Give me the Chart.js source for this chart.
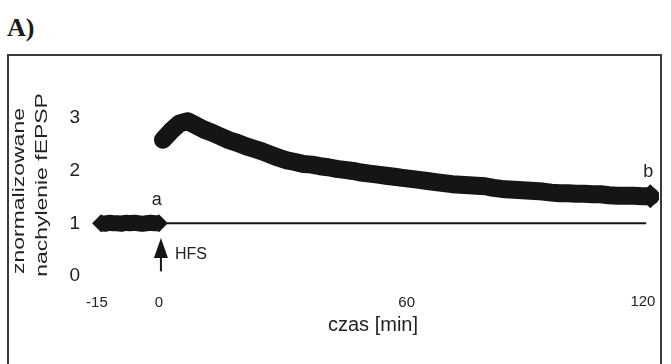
<!DOCTYPE html>
<html>
<head>
<meta charset="utf-8">
<script src="https://cdn.jsdelivr.net/npm/chart.js@4.4.1/dist/chart.umd.min.js"></script>
<style>
  html, body { margin: 0; padding: 0; background: #fff; width: 671px; height: 364px; overflow: hidden; }
  #c { position: absolute; left: 0; top: 0; }
  #frame { position: absolute; left: 7px; top: 54px; width: 655px; height: 340px; box-sizing: border-box; border: 2px solid #3a3a3a; pointer-events: none; }
  #lbl { position: absolute; left: 7px; top: 14px; font-family: "Liberation Serif", "DejaVu Serif", serif; font-weight: bold; font-size: 26px; line-height: 27px; color: #1a1a1a; }
</style>
</head>
<body>
<div id="lbl">A)</div>
<canvas id="c" width="671" height="364"></canvas>
<div id="frame"></div>
<script>
// ---- data ----
const baseTime = [-14, -13, -12, -11, -10, -9, -8, -7, -6, -5, -4, -3, -2, -1, 0];
const baseValues = [1.00, 0.99, 1.01, 1.00, 1.00, 0.99, 1.01, 1.00, 1.01, 1.00, 0.99, 1.00, 1.01, 1.00, 1.00];

const postTime = [1, 3, 5, 7, 9, 11, 13, 15, 17, 19, 21, 23, 25, 27, 29, 31, 33, 35, 37, 39,
                  41, 43, 45, 47, 49, 51, 53, 55, 57, 59, 61, 63, 65, 67, 69, 71, 73, 75, 77, 79,
                  81, 83, 85, 87, 89, 91, 93, 95, 97, 99, 101, 103, 105, 107, 109, 111, 113, 115, 117, 119];
const postValues = [2.58, 2.75, 2.89, 2.93, 2.85, 2.77, 2.71, 2.64, 2.57, 2.52, 2.46, 2.41, 2.36, 2.30, 2.24, 2.19, 2.16, 2.12, 2.11, 2.08,
                    2.06, 2.03, 2.01, 1.99, 1.96, 1.94, 1.92, 1.90, 1.88, 1.86, 1.84, 1.82, 1.80, 1.78, 1.76, 1.74, 1.73, 1.72, 1.71, 1.70,
                    1.67, 1.65, 1.64, 1.63, 1.62, 1.61, 1.60, 1.58, 1.57, 1.57, 1.56, 1.56, 1.55, 1.55, 1.53, 1.52, 1.52, 1.52, 1.51, 1.51];

const refLineTime = [2, 118];
const refLineValue = [1, 1];

const xTickValues = [-15, 0, 60, 120];
const yTickValues = [0, 1, 2, 3];

const xTitle = 'czas [min]';
const yTitle = ['znormalizowane', 'nachylenie fEPSP'];

const labelA = { text: 'a', t: -0.5, v: 1.44 };
const labelB = { text: 'b', t: 118.5, v: 1.97 };
const hfs = { text: 'HFS', t: 0.5, tip: 0.72, base: 0.09 };

// ---- chart ----
const FONT = '"Liberation Sans", Arial, sans-serif';
const INK = '#151515';
const TXT = '#222';

const toXY = (xs, ys) => xs.map((x, i) => ({ x: x, y: ys[i] }));
const endsOnly = (r) => (ctx) => (ctx.dataIndex === 0 || ctx.dataIndex === ctx.dataset.data.length - 1 ? r : 0);
const lastOnly = (r) => (ctx) => (ctx.dataIndex === ctx.dataset.data.length - 1 ? r : 0);

const annot = {
  id: 'annot',
  afterDatasetsDraw(chart) {
    const { ctx, chartArea, scales: { x, y } } = chart;
    ctx.save();
    ctx.fillStyle = TXT;
    ctx.font = '18px ' + FONT;
    ctx.textAlign = 'center';
    ctx.textBaseline = 'middle';
    ctx.fillText(labelA.text, x.getPixelForValue(labelA.t), y.getPixelForValue(labelA.v));
    ctx.fillText(labelB.text, x.getPixelForValue(labelB.t), y.getPixelForValue(labelB.v));
    // HFS arrow
    const ax = x.getPixelForValue(hfs.t);
    const ty = y.getPixelForValue(hfs.tip);
    const by = y.getPixelForValue(hfs.base);
    ctx.strokeStyle = INK;
    ctx.lineWidth = 2;
    ctx.beginPath();
    ctx.moveTo(ax, ty + 12);
    ctx.lineTo(ax, by);
    ctx.stroke();
    ctx.fillStyle = INK;
    ctx.beginPath();
    ctx.moveTo(ax, ty);
    ctx.lineTo(ax - 7, ty + 20);
    ctx.lineTo(ax + 7, ty + 20);
    ctx.closePath();
    ctx.fill();
    ctx.fillStyle = TXT;
    ctx.font = '16px ' + FONT;
    ctx.textAlign = 'left';
    ctx.fillText(hfs.text, ax + 14, ty + 17);
    // last x tick label sits inside the frame, right-aligned
    ctx.font = '15px ' + FONT;
    ctx.textAlign = 'right';
    ctx.textBaseline = 'top';
    const last = xTickValues[xTickValues.length - 1];
    ctx.fillText(String(last), x.getPixelForValue(last) + 1, chartArea.bottom + 2);
    // y axis title (two rotated lines, stretched along the text like the scan)
    const cy = (chartArea.top + chartArea.bottom) / 2 + 10;
    const lineX = [19, 42];
    ctx.font = '17px ' + FONT;
    ctx.textAlign = 'center';
    ctx.textBaseline = 'middle';
    yTitle.forEach((txt, i) => {
      ctx.save();
      ctx.translate(lineX[i], cy - i * 6);
      ctx.rotate(-Math.PI / 2);
      ctx.scale(1.35, 1);
      ctx.fillText(txt, 0, 0);
      ctx.restore();
    });
    ctx.restore();
  }
};

new Chart(document.getElementById('c'), {
  type: 'line',
  data: {
    datasets: [
      {
        data: toXY(baseTime, baseValues),
        borderColor: INK, backgroundColor: INK,
        borderWidth: 16, borderJoinStyle: 'round', borderCapStyle: 'butt',
        pointStyle: 'rectRot', pointRadius: endsOnly(9),
        pointBorderWidth: 0, pointBackgroundColor: INK, tension: 0
      },
      {
        data: toXY(postTime, postValues),
        borderColor: INK, backgroundColor: INK,
        borderWidth: 18, borderJoinStyle: 'round', borderCapStyle: 'round',
        pointStyle: 'rectRot', pointRadius: lastOnly(12),
        pointBorderWidth: 0, pointBackgroundColor: INK, tension: 0
      },
      {
        data: toXY(refLineTime, refLineValue),
        borderColor: INK, borderWidth: 2, pointRadius: 0, tension: 0
      }
    ]
  },
  options: {
    responsive: false,
    animation: false,
    devicePixelRatio: 1,
    layout: { padding: { left: 4, top: 70, right: 12, bottom: 0 } },
    plugins: { legend: { display: false }, tooltip: { enabled: false } },
    scales: {
      x: {
        type: 'linear', min: -17.4, max: 121.1,
        grid: { display: false, drawTicks: false },
        border: { display: false },
        afterBuildTicks(s) { s.ticks = xTickValues.map(v => ({ value: v })); },
        afterFit(s) { s.height = 72; },
        ticks: {
          padding: 2, color: TXT, font: { family: FONT, size: 15 },
          maxRotation: 0, autoSkip: false,
          callback: (v) => (v === xTickValues[xTickValues.length - 1] ? '' : String(v))
        },
        title: { display: true, text: xTitle, color: TXT, font: { family: FONT, size: 20, lineHeight: 1.2 }, padding: { top: 0, bottom: 27 } }
      },
      y: {
        type: 'linear', min: -0.3, max: 3.9,
        grid: { display: false, drawTicks: false },
        border: { display: false },
        afterBuildTicks(s) { s.ticks = yTickValues.map(v => ({ value: v })); },
        afterFit(s) { s.width = 83; },
        ticks: { padding: 7, color: TXT, font: { family: FONT, size: 19 }, autoSkip: false, callback: (v) => String(v) },
        title: { display: false }
      }
    }
  },
  plugins: [annot]
});
</script>
</body>
</html>
